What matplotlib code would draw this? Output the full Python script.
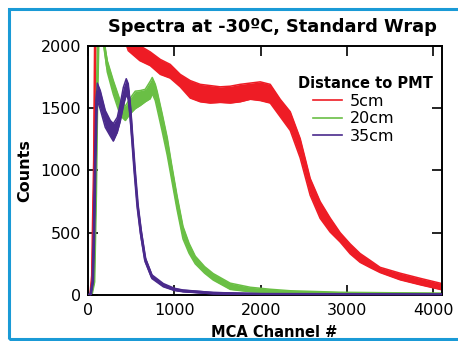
import matplotlib
matplotlib.use("Agg")
import matplotlib.pyplot as plt
from matplotlib.patches import Rectangle
from matplotlib.lines import Line2D

plt.rcParams['font.family'] = ['DejaVu Sans']

title = "Spectra at -30ºC, Standard Wrap"
xlabel = "MCA Channel #"
ylabel = "Counts"
legend_title = "Distance to PMT"
series_names = ["5cm", "20cm", "35cm"]
xticks = [0, 1000, 2000, 3000, 4000]
yticks = [0, 500, 1000, 1500, 2000]

# 5cm (red): channel, lower and upper edge of the noisy band
red_ch = [0, 30, 50, 58, 73, 85, 200, 400, 466, 600, 721, 837, 952, 1068, 1184, 1300,
          1415, 1531, 1647, 1763, 1879, 1995, 2110, 2226, 2342, 2457, 2573, 2688,
          2804, 2920, 3036, 3151, 3267, 3383, 3614, 3846, 4096]
red_lo = [0, 0, 150, 500, 1080, 2100, 2300, 2100, 1960, 1880, 1840, 1770, 1740, 1670,
          1580, 1550, 1540, 1545, 1540, 1550, 1570, 1560, 1540, 1430, 1320, 1100, 800,
          615, 505, 425, 330, 262, 220, 180, 122, 82, 42]
red_hi = [0, 10, 160, 510, 1090, 2200, 2400, 2200, 2050, 2000, 1950, 1890, 1850, 1770,
          1720, 1690, 1680, 1670, 1675, 1690, 1700, 1710, 1690, 1570, 1470, 1255, 935,
          750, 618, 500, 410, 333, 278, 222, 175, 134, 92]

# 20cm (green)
green_ch = [0, 40, 70, 90, 105, 119, 150, 177, 223, 293, 374, 432, 490, 547, 605, 663,
            721, 744, 779, 802, 860, 918, 965, 1030, 1100, 1170, 1242, 1350, 1450,
            1647, 1879, 2110, 2342, 2920, 4096]
green_lo = [0, 0, 100, 800, 1600, 2050, 2150, 2050, 1790, 1610, 1440, 1400, 1455, 1495,
            1520, 1550, 1575, 1615, 1560, 1490, 1310, 1120, 940, 690, 450, 335,
            250, 175, 120, 45, 26, 18, 10, 3, 2]
green_hi = [0, 5, 110, 810, 1610, 2060, 2160, 2060, 1880, 1720, 1555, 1515, 1580, 1635,
            1640, 1650, 1715, 1745, 1690, 1630, 1450, 1260, 1060, 800, 550, 415,
            312, 228, 172, 95, 62, 46, 34, 22, 14]

# 35cm (purple)
blue_ch = [0, 30, 55, 70, 84, 100, 108, 142, 200, 258, 293, 339, 374, 409, 443, 466,
           490, 513, 540, 575, 613, 663, 740, 872, 1000, 1100, 1450, 2000, 4096]
blue_lo = [0, 0, 100, 500, 1080, 1540, 1560, 1490, 1345, 1275, 1235, 1305, 1395, 1515,
           1610, 1570, 1410, 1220, 975, 690, 470, 265, 132, 66, 36, 26, 10, 3, 1]
blue_hi = [0, 5, 110, 510, 1090, 1600, 1700, 1640, 1480, 1400, 1375, 1425, 1535, 1665,
           1735, 1695, 1535, 1290, 1030, 735, 530, 300, 162, 92, 54, 40, 20, 10, 6]

colors = ["#ee1c25", "#6abf45", "#4a2a8c"]

fig = plt.figure(figsize=(4.58, 3.41), dpi=100)
ax = fig.add_axes([88 / 458, 46 / 341, (441.7 - 88) / 458, (295 - 45.7) / 341])

series = [(red_ch, red_lo, red_hi), (green_ch, green_lo, green_hi), (blue_ch, blue_lo, blue_hi)]
zs = [2.0, 2.1, 2.6]
for (ch, lo, hi), c, z in zip(series, colors, zs):
    ax.fill_between(ch, lo, hi, color=c, linewidth=0, zorder=z)
    mid = [(a + b) / 2 for a, b in zip(lo, hi)]
    ax.plot(ch, mid, color=c, lw=2.0, zorder=z, solid_joinstyle='round')
    ax.plot(ch, lo, color=c, lw=1.1, zorder=z)
    ax.plot(ch, hi, color=c, lw=1.1, zorder=z)

ax.set_xlim(0, 4096)
ax.set_ylim(0, 2000)
ax.set_xticks(xticks)
ax.set_yticks(yticks)
ax.tick_params(direction='in', length=7, width=1.2, top=True, right=True,
               labelsize=11.5, pad=5, colors='black')
ax.tick_params(axis='x', pad=6)
for s in ax.spines.values():
    s.set_linewidth(1.4)
    s.set_zorder(2.5)

ax.set_xlabel(xlabel, fontsize=10.5, fontweight='bold')
ax.xaxis.set_label_coords((274.5 - 88) / 353.7, -0.12)
ax.set_ylabel(ylabel, fontsize=11.5, fontweight='bold', labelpad=6)
fig.text(437 / 458, 1 - 27 / 341, title, ha='right', va='center',
         fontsize=12.75, fontweight='bold')

handles = [Line2D([0], [0], color=c, lw=1.2) for c in colors]
fig.legend(handles, series_names, loc='upper left',
           bbox_to_anchor=(313 / 458, 1 - 94 / 341), frameon=False, fontsize=11.5,
           handlelength=1.8, handletextpad=0.5, labelspacing=0.15, borderpad=0,
           borderaxespad=0)
fig.text(298 / 458, 1 - 83 / 341, legend_title, ha='left', va='center',
         fontsize=10.5, fontweight='bold')

frame = Rectangle((9 / 458, 2 / 341), 1.2, 1 - 11 / 341, transform=fig.transFigure,
                  fill=False, edgecolor='#1a9ad6', lw=2.2, clip_on=False)
fig.patches.append(frame)

fig.savefig("out.png", dpi=100)
